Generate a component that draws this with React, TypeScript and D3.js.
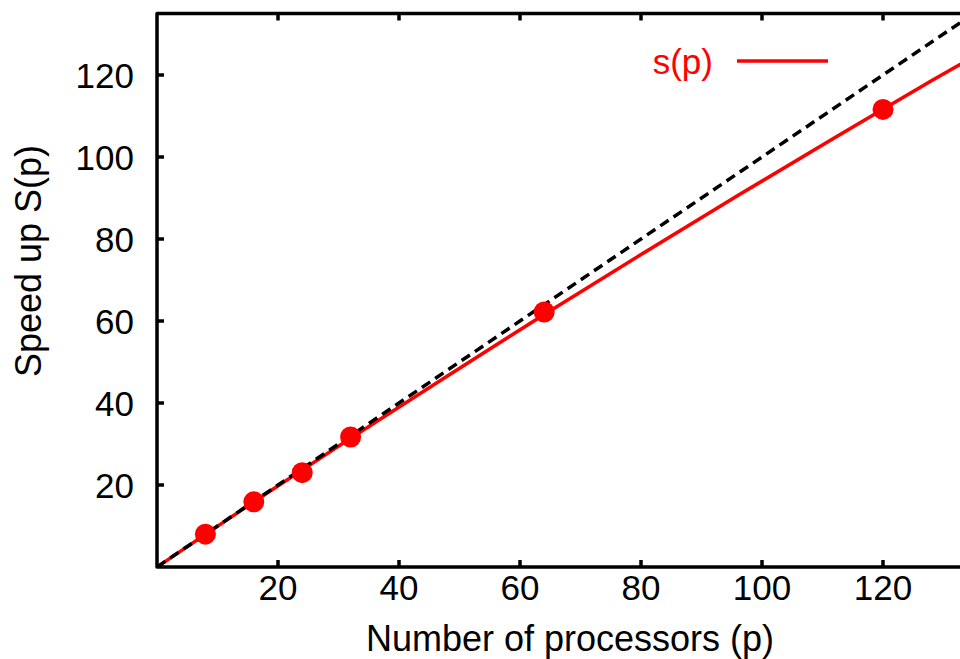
import React from "react";
import * as d3 from "d3";

const procs = [8, 16, 24, 32, 64, 120];
const speedup = [8.0, 15.9, 23.0, 31.7, 62.2, 111.6];
const fitProcs = [0, 16, 32, 48, 64, 80, 96, 112, 128, 136];
const fitSpeedup = [0, 15.9, 31.4, 46.6, 61.6, 76.2, 90.6, 104.7, 118.6, 125.3];
const idealProcs = [0, 140];
const idealSpeedup = [0, 140];
const xTicks = [20, 40, 60, 80, 100, 120];
const yTicks = [20, 40, 60, 80, 100, 120];
const legendLabel = "s(p)";
const xTitle = "Number of processors (p)";
const yTitle = "Speed up S(p)";

const W = 960;
const H = 659;
const L = 157;
const B = 567;
const T = 13.5;
const R = L + 135 * 6.05;

export default function App() {
  const x = d3.scaleLinear().domain([0, 135]).range([L, R]);
  const y = d3.scaleLinear().domain([0, 135]).range([B, T]);
  const line = d3
    .line<[number, number]>()
    .x((d) => x(d[0]))
    .y((d) => y(d[1]));
  const fitPath = line(fitProcs.map((p, i) => [p, fitSpeedup[i]]) as [number, number][]) || "";
  const idealPath = line(idealProcs.map((p, i) => [p, idealSpeedup[i]]) as [number, number][]) || "";
  const font = "'Liberation Sans', Arial, sans-serif";
  const fs = 35;
  const tickLen = 7;
  return (
    <svg
      width={W}
      height={H}
      style={{ position: "absolute", left: 0, top: 0, background: "#fff" }}
      fontFamily={font}
    >
      <defs>
        <clipPath id="plot">
          <rect x={L} y={T} width={R - L} height={B - T} />
        </clipPath>
      </defs>
      <rect x={0} y={0} width={W} height={H} fill="#fff" />
      <g clipPath="url(#plot)">
        <path d={fitPath} fill="none" stroke="#ff0000" strokeWidth={3.5} />
        <path d={idealPath} fill="none" stroke="#000" strokeWidth={3.5} strokeDasharray="10,6" />
        {procs.map((p, i) => (
          <circle key={p} cx={x(p)} cy={y(speedup[i])} r={10.5} fill="#ff0000" />
        ))}
      </g>
      {/* axes */}
      <path
        d={`M${R},${T}H${L}V${B}H${R}`}
        fill="none"
        stroke="#000"
        strokeWidth={3.5}
        strokeLinejoin="round"
      />
      {xTicks.map((t) => (
        <g key={"x" + t}>
          <line x1={x(t)} x2={x(t)} y1={B} y2={B - tickLen} stroke="#000" strokeWidth={3.5} />
          <line x1={x(t)} x2={x(t)} y1={T} y2={T + tickLen} stroke="#000" strokeWidth={3.5} />
          <text x={x(t)} y={B + 33} textAnchor="middle" fontSize={fs} fill="#000">
            {t}
          </text>
        </g>
      ))}
      {yTicks.map((t) => (
        <g key={"y" + t}>
          <line x1={L} x2={L + tickLen} y1={y(t)} y2={y(t)} stroke="#000" strokeWidth={3.5} />
          <text x={134} y={y(t)} dy="0.36em" textAnchor="end" fontSize={fs} fill="#000">
            {t}
          </text>
        </g>
      ))}
      <text x={570} y={651} textAnchor="middle" fontSize={36} fill="#000">
        {xTitle}
      </text>
      <text
        transform={`translate(41,261) rotate(-90)`}
        textAnchor="middle"
        fontSize={36}
        fill="#000"
      >
        {yTitle}
      </text>
      {/* legend */}
      <text x={713} y={61} dy="0.36em" textAnchor="end" fontSize={fs} fill="#ff0000">
        {legendLabel}
      </text>
      <line x1={737} x2={828} y1={61} y2={61} stroke="#ff0000" strokeWidth={3.5} />
    </svg>
  );
}
